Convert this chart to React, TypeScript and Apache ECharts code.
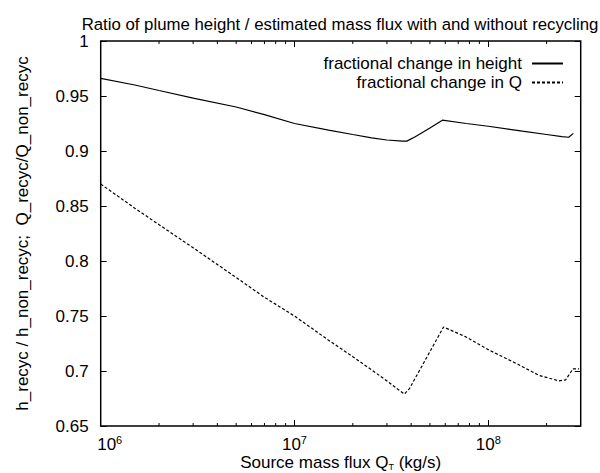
import React, { useEffect, useRef } from "react";
import * as echarts from "echarts";

// Source mass flux values (kg/s) and ratios
const heightQ = [1e6, 1.5e6, 2e6, 3e6, 5e6, 7e6, 1e7, 1.5e7, 2e7, 2.5e7, 3e7, 3.6e7, 3.8e7, 4.2e7, 5e7, 5.8e7, 7.7e7, 1e8, 1.5e8, 2e8, 2.4e8, 2.6e8, 2.75e8];
const heightRatio = [0.966, 0.96, 0.955, 0.948, 0.94, 0.933, 0.925, 0.919, 0.915, 0.912, 0.91, 0.909, 0.909, 0.913, 0.921, 0.928, 0.925, 0.9225, 0.918, 0.915, 0.913, 0.9125, 0.916];

const fluxQ = [1e6, 1.5e6, 2e6, 3e6, 5e6, 7e6, 1e7, 1.5e7, 2e7, 2.5e7, 3e7, 3.44e7, 3.69e7, 3.92e7, 5.88e7, 7.67e7, 1.01e8, 1.39e8, 1.83e8, 2.32e8, 2.51e8, 2.74e8, 2.94e8];
const fluxRatio = [0.87, 0.848, 0.833, 0.812, 0.785, 0.767, 0.75, 0.728, 0.713, 0.701, 0.691, 0.683, 0.679, 0.684, 0.74, 0.731, 0.719, 0.707, 0.696, 0.691, 0.692, 0.702, 0.702];

const minorTickValues = [2e6, 3e6, 4e6, 5e6, 6e6, 7e6, 8e6, 9e6, 2e7, 3e7, 4e7, 5e7, 6e7, 7e7, 8e7, 9e7, 2e8];

const seriesNames = ["fractional change in height", "fractional change in Q"];
const titleText = "Ratio of plume height / estimated mass flux with and without recycling";
const xName = "Source mass flux Q{sub|T} (kg/s)";
const yName = "h_recyc / h_non_recyc;  Q_recyc/Q_non_recyc";

const X_MIN = 1e6;
const X_MAX = 3e8;
const Y_MIN = 0.65;
const Y_MAX = 1;
const Y_STEP = 0.05;

const FONT = "'Liberation Sans', Arial, Helvetica, sans-serif";

export default function App() {
  const ref = useRef<HTMLDivElement | null>(null);

  useEffect(() => {
    if (!ref.current) return;
    const chart = echarts.init(ref.current, undefined, { renderer: "svg" });

    const heightData = heightQ.map((q, i) => [q, heightRatio[i]]);
    const fluxData = fluxQ.map((q, i) => [q, fluxRatio[i]]);
    const minorData = minorTickValues.map((v) => [v, Y_MIN]);

    const tickCommon = {
      show: true,
      inside: true,
      length: 6,
      lineStyle: { color: "#000", width: 1 },
    };

    const option: any = {
      animation: false,
      backgroundColor: "#fff",
      textStyle: { fontFamily: FONT, color: "#000" },
      graphic: [
        {
          type: "text",
          x: 340,
          y: 24,
          silent: true,
          style: {
            text: titleText,
            textAlign: "center",
            textVerticalAlign: "middle",
            fontSize: 16.8,
            fontFamily: FONT,
            fill: "#000",
          },
        },
      ],
      legend: {
        data: seriesNames,
        orient: "vertical",
        right: 36,
        top: 54,
        align: "right",
        itemWidth: 31,
        itemHeight: 14,
        itemGap: 0,
        padding: 0,
        itemStyle: { color: "transparent", borderColor: "transparent", borderWidth: 0, opacity: 0 },
        textStyle: { fontSize: 17, lineHeight: 19, color: "#000", fontFamily: FONT, padding: [0, 5, 0, 0] },
      },
      grid: {
        left: 100.7,
        right: 19.3,
        top: 41,
        bottom: 47,
        show: true,
        borderColor: "#000",
        borderWidth: 1.5,
        backgroundColor: "transparent",
        outerBoundsMode: "none",
      },
      xAxis: [
        {
          type: "log",
          logBase: 10,
          min: X_MIN,
          max: X_MAX,
          position: "bottom",
          axisLine: { show: false },
          axisTick: tickCommon,
          splitLine: { show: false },
          minorTick: { show: false },
          axisLabel: {
            margin: 8,
            showMaxLabel: false,
            color: "#000",
            formatter: (value: number) => {
              const e = Math.round(Math.log10(value));
              const base = e === 6 ? "b0" : "b";
              return `{${base}|10}{s|${e}}`;
            },
            rich: {
              b: { fontSize: 17, lineHeight: 20, fontFamily: FONT, color: "#000" },
              b0: { fontSize: 17, lineHeight: 20, fontFamily: FONT, color: "#000", padding: [0, 0, 0, 18] },
              s: { fontSize: 11, lineHeight: 11, verticalAlign: "top", fontFamily: FONT, color: "#000" },
            },
          },
          name: xName,
          nameLocation: "middle",
          nameGap: 28,
          nameMoveOverlap: false,
          nameTextStyle: {
            fontSize: 17,
            lineHeight: 17,
            color: "#000",
            fontFamily: FONT,
            rich: {
              sub: { fontSize: 9, lineHeight: 9, verticalAlign: "bottom", fontFamily: FONT, color: "#000" },
            },
          },
        },
        {
          type: "log",
          logBase: 10,
          min: X_MIN,
          max: X_MAX,
          position: "top",
          axisLine: { show: false },
          axisTick: tickCommon,
          axisLabel: { show: false },
          splitLine: { show: false },
        },
      ],
      yAxis: [
        {
          type: "value",
          min: Y_MIN,
          max: Y_MAX,
          interval: Y_STEP,
          position: "left",
          axisLine: { show: false },
          axisTick: tickCommon,
          splitLine: { show: false },
          axisLabel: { margin: 12, fontSize: 17, color: "#000", fontFamily: FONT },
          name: yName,
          nameLocation: "middle",
          nameGap: 70,
          nameMoveOverlap: false,
          nameTextStyle: { fontSize: 17, color: "#000", fontFamily: FONT },
        },
        {
          type: "value",
          min: Y_MIN,
          max: Y_MAX,
          interval: Y_STEP,
          position: "right",
          axisLine: { show: false },
          axisTick: tickCommon,
          splitLine: { show: false },
          axisLabel: { show: false },
        },
      ],
      series: [
        {
          name: seriesNames[0],
          type: "line",
          xAxisIndex: 0,
          yAxisIndex: 0,
          data: heightData,
          symbol: "none",
          color: "#000",
          lineStyle: { color: "#000", width: 1.2, type: "solid" },
          silent: true,
        },
        {
          name: seriesNames[1],
          type: "line",
          xAxisIndex: 0,
          yAxisIndex: 0,
          data: fluxData,
          symbol: "none",
          color: "#000",
          lineStyle: { color: "#000", width: 1.2, type: [3, 2] },
          silent: true,
        },
        {
          name: "minor ticks",
          type: "custom",
          xAxisIndex: 0,
          yAxisIndex: 0,
          data: minorData,
          encode: { x: 0, y: 1 },
          clip: false,
          silent: true,
          renderItem: (params: any, api: any) => {
            const v = api.value(0);
            const b = api.coord([v, Y_MIN]);
            const t = api.coord([v, Y_MAX]);
            const st = { stroke: "#000", lineWidth: 1 };
            return {
              type: "group",
              children: [
                { type: "line", shape: { x1: b[0], y1: b[1], x2: b[0], y2: b[1] - 3 }, style: st },
                { type: "line", shape: { x1: t[0], y1: t[1], x2: t[0], y2: t[1] + 3 }, style: st },
              ],
            };
          },
        },
      ],
    };

    chart.setOption(option);
    return () => {
      chart.dispose();
    };
  }, []);

  return (
    <div
      ref={ref}
      style={{ position: "absolute", left: 0, top: 0, width: 600, height: 473, background: "#fff" }}
    />
  );
}
